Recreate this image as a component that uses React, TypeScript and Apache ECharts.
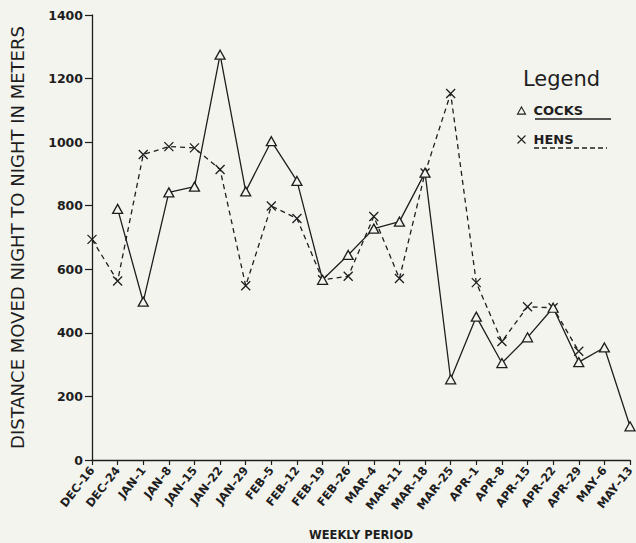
import React, { useEffect, useRef } from "react";
import * as echarts from "echarts";

const weeks = [
  "DEC–16", "DEC–24", "JAN–1", "JAN–8", "JAN–15", "JAN–22", "JAN–29",
  "FEB–5", "FEB–12", "FEB–19", "FEB–26", "MAR–4", "MAR–11", "MAR–18",
  "MAR–25", "APR–1", "APR–8", "APR–15", "APR–22", "APR–29", "MAY–6", "MAY–13",
];
const cocks = [
  null, 790, 498, 842, 860, 1275, 845, 1003, 878, 567, 645, 728, 750, 904,
  254, 451, 305, 386, 479, 308, 354, 106,
];
const hens = [
  694, 563, 961, 986, 982, 914, 548, 799, 760, 567, 578, 766, 571, 903,
  1153, 558, 373, 482, 479, 342, null, null,
];
const yTicks = { min: 0, max: 1400, interval: 200 };

const INK = "#1e1e1e";
const BG = "#f4f4ef";
const FONT = "DejaVu Sans";
const CROSS = "path://M0,0L10,10M10,0L0,10";
const TRI = "path://M5,0L10,9L0,9Z";

export default function App() {
  const ref = useRef<HTMLDivElement>(null);
  useEffect(() => {
    const chart = echarts.init(ref.current!, null, { renderer: "svg" });
    chart.setOption({
      animation: false,
      backgroundColor: BG,
      grid: { left: 92, top: 15, right: 6, bottom: 83, containLabel: false, outerBoundsMode: "none" },
      xAxis: {
        type: "category",
        data: weeks,
        boundaryGap: false,
        name: "WEEKLY PERIOD",
        nameLocation: "middle",
        nameGap: 69,
        nameTextStyle: { fontFamily: FONT, fontSize: 11.5, fontWeight: "bold", color: INK },
        axisLine: { lineStyle: { color: INK, width: 1.3 } },
        axisTick: { inside: false, length: 5, lineStyle: { color: INK, width: 1.2 } },
        axisLabel: {
          rotate: 52,
          interval: 0,
          margin: 8,
          fontFamily: FONT,
          fontSize: 11.5,
          fontWeight: "bold",
          color: INK,
        },
        splitLine: { show: false },
      },
      yAxis: {
        type: "value",
        min: yTicks.min,
        max: yTicks.max,
        interval: yTicks.interval,
        name: "DISTANCE MOVED NIGHT TO NIGHT IN METERS",
        nameLocation: "middle",
        nameGap: 66,
        nameRotate: 90,
        nameTextStyle: { fontFamily: FONT, fontSize: 18, color: INK },
        axisLine: { show: true, lineStyle: { color: INK, width: 1.3 } },
        axisTick: { show: true, length: 7, lineStyle: { color: INK, width: 1.2 } },
        axisLabel: {
          margin: 9,
          fontFamily: FONT,
          fontSize: 12.5,
          fontWeight: "bold",
          color: INK,
          formatter: (v: number) => String(v),
        },
        splitLine: { show: false },
      },
      legend: {
        orient: "vertical",
        left: 510,
        top: 99,
        itemWidth: 8,
        itemHeight: 8,
        itemGap: 16,
        textStyle: { fontFamily: FONT, fontSize: 13, fontWeight: "bold", color: INK, padding: [0, 0, 0, 3] },
        data: [
          { name: "COCKS", icon: TRI, itemStyle: { color: BG, borderColor: INK, borderWidth: 1.1 } },
          { name: "HENS", icon: CROSS, itemStyle: { color: "none", borderColor: INK, borderWidth: 1.1 } },
        ],
      },
      graphic: [
        { type: "text", left: 523, top: 68, style: { text: "Legend", fontFamily: FONT, fontSize: 21, fill: INK } },
        { type: "line", shape: { x1: 535, y1: 119, x2: 611, y2: 119 }, style: { stroke: INK, lineWidth: 1.3 } },
        { type: "line", shape: { x1: 534, y1: 148, x2: 607, y2: 148 }, style: { stroke: INK, lineWidth: 1.3, lineDash: [5, 3] } },
      ],
      series: [
        {
          name: "COCKS",
          type: "line",
          data: cocks,
          symbol: TRI,
          symbolSize: [10, 9],
          showAllSymbol: true,
          connectNulls: false,
          lineStyle: { color: INK, width: 1.3, type: "solid" },
          itemStyle: { color: BG, borderColor: INK, borderWidth: 1.3 },
          z: 3,
        },
        {
          name: "HENS",
          type: "line",
          data: hens,
          symbol: CROSS,
          symbolSize: 9,
          showAllSymbol: true,
          lineStyle: { color: INK, width: 1.3, type: [5, 4] },
          itemStyle: { color: "none", borderColor: INK, borderWidth: 1.3 },
          z: 2,
        },
      ],
    });
    return () => chart.dispose();
  }, []);
  return <div ref={ref} style={{ width: 636, height: 543, position: "absolute", left: 0, top: 0 }} />;
}
